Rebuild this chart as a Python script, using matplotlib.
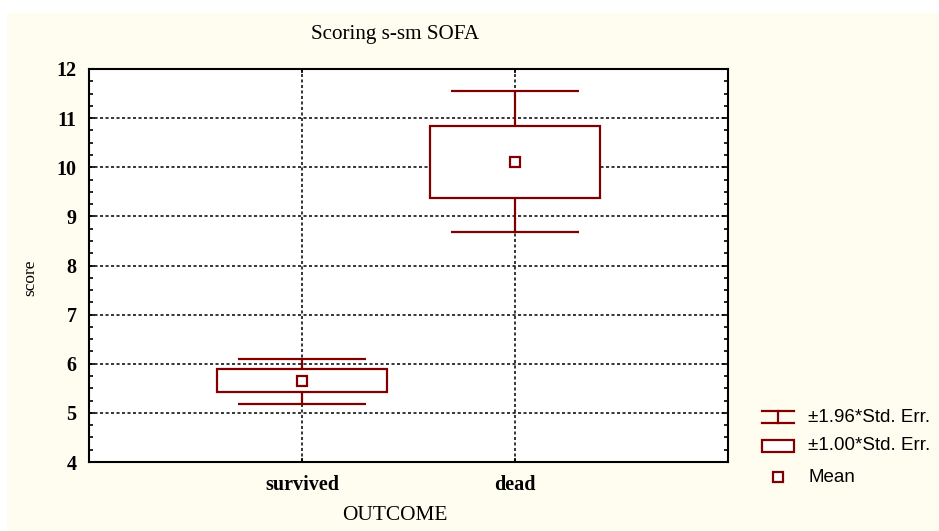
import numpy as np
import matplotlib
matplotlib.use("Agg")
from matplotlib import pyplot as plt
from matplotlib.patches import Rectangle
from matplotlib.lines import Line2D

# data
groups = ["survived", "dead"]
means = [5.65, 10.11]
box_lo = [5.43, 9.38]      # mean - 1.00*SE
box_hi = [5.89, 10.84]     # mean + 1.00*SE
whisk_lo = [5.19, 8.69]    # mean - 1.96*SE
whisk_hi = [6.10, 11.55]   # mean + 1.96*SE
yticks = [4, 5, 6, 7, 8, 9, 10, 11, 12]

red = "#800000"
cream = "#fffcf0"
W, H = 939, 531

fig = plt.figure(figsize=(W / 100, H / 100), dpi=100, facecolor="white")
# cream background panel (white strip on top and left)
fig.patches.append(Rectangle((7 / W, 0), 1, 1 - 13 / H, transform=fig.transFigure,
                             facecolor=cream, edgecolor="none", zorder=-10))

ax = fig.add_axes([89 / W, (H - 462) / H, 639 / W, 393 / H])
ax.set_facecolor("white")

x = np.arange(1, len(groups) + 1)
err = [np.array(means) - np.array(whisk_lo), np.array(whisk_hi) - np.array(means)]
ax.errorbar(x, means, yerr=err, fmt="none", ecolor=red, elinewidth=1.6,
            capsize=46, capthick=1.6, zorder=3)
ax.bar(x, np.array(box_hi) - np.array(box_lo), bottom=box_lo, width=0.8,
       facecolor="white", edgecolor=red, linewidth=1.6, zorder=4)
ax.plot(x, means, "s", mfc="white", mec=red, mew=1.6, ms=7.5, zorder=5)

ax.set_xlim(0, 3)
ax.set_ylim(4, 12)
ax.set_xticks(x)
ax.set_xticklabels(groups)
ax.set_yticks(yticks)
ax.set_yticks(np.arange(4, 12.01, 0.25), minor=True)
ax.grid(True, which="major", color="black", linestyle=(0, (2, 1.6)), linewidth=1.1, zorder=1)
ax.set_axisbelow(True)

for s in ax.spines.values():
    s.set_linewidth(1.5)
    s.set_color("black")

ax.tick_params(axis="y", which="both", direction="in", left=True, right=True,
               labelsize=14.5, pad=9)
ax.tick_params(axis="y", which="major", length=4, width=1.2)
ax.tick_params(axis="y", which="minor", length=3, width=1.2)
ax.tick_params(axis="x", direction="in", top=True, bottom=True, length=3, width=1.2,
               labelsize=14.5, pad=9)
for lab in ax.get_xticklabels() + ax.get_yticklabels():
    lab.set_fontfamily("Liberation Serif")
    lab.set_fontweight("bold")

fig.text(395 / W, 1 - 35 / H, "Scoring s-sm SOFA", ha="center", va="center",
         family="Liberation Serif", fontsize=15.2)
fig.text(395 / W, 1 - 516 / H, "OUTCOME", ha="center", va="center",
         family="Liberation Serif", fontsize=15.4)
fig.text(30 / W, 1 - 278 / H, "score", ha="center", va="center", rotation=90,
         family="Liberation Serif", fontsize=12.5)

# legend drawn in pixel space
lg = fig.add_axes([0, 0, 1, 1], facecolor="none")
lg.set_xlim(0, W)
lg.set_ylim(H, 0)
lg.axis("off")
lg.add_line(Line2D([762, 794], [411, 411], color=red, lw=1.6))
lg.add_line(Line2D([762, 794], [423, 423], color=red, lw=1.6))
lg.add_line(Line2D([778, 778], [411, 423], color=red, lw=1.6))
lg.add_patch(Rectangle((762, 440), 32, 12, facecolor="white", edgecolor=red, lw=1.6))
lg.plot([778], [477], "s", mfc="white", mec=red, mew=1.6, ms=6.5)
for yy, txt in zip([417, 446, 477], ["±1.96*Std. Err.", "±1.00*Std. Err.", "Mean"]):
    lg.text(808, yy, txt, ha="left", va="center", family="Liberation Sans", fontsize=13.5)

plt.savefig("out.png", dpi=100, facecolor=fig.get_facecolor())
